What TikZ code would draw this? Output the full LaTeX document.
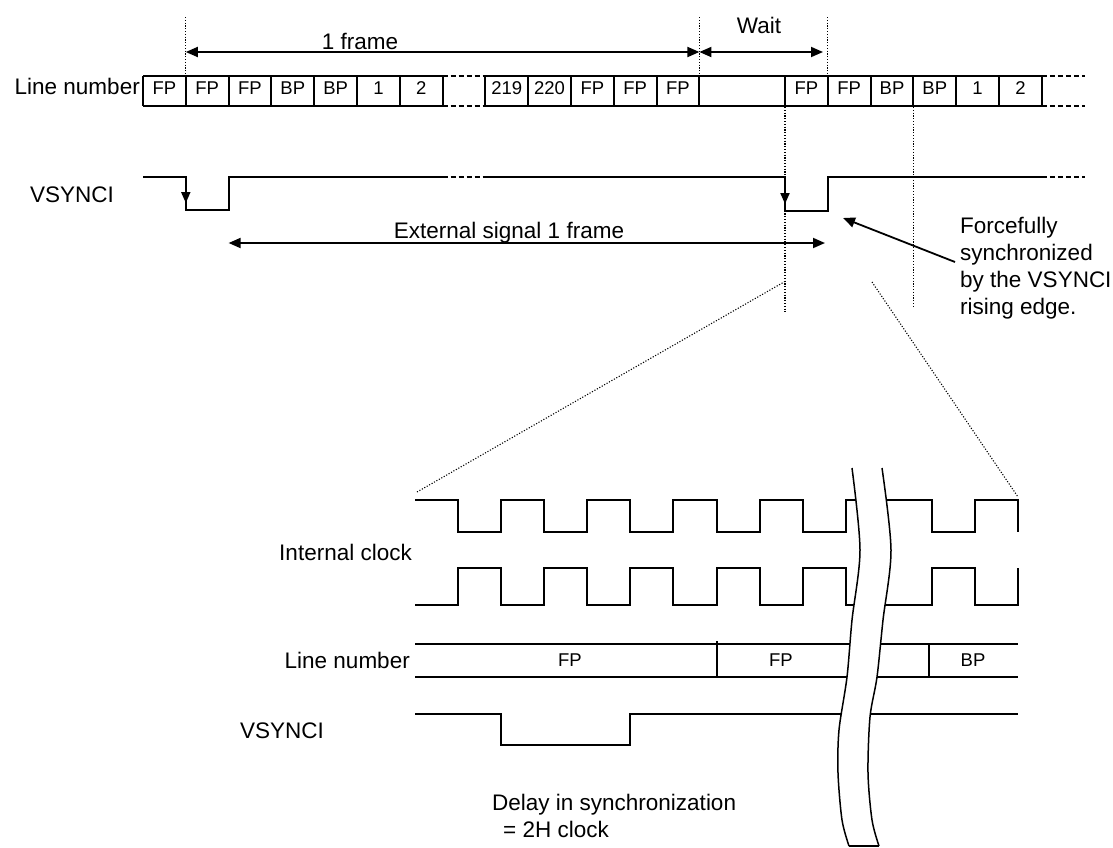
\documentclass[tikz,border=0pt]{standalone}
\usepackage{fontspec}
\setmainfont{Liberation Sans}
\usetikzlibrary{arrows.meta}
\begin{document}
\begin{tikzpicture}[x=1pt,y=-1pt,
  wave/.style={line width=2pt, line join=miter, line cap=butt},
  dashwave/.style={line width=2pt, dash pattern=on 5pt off 3pt},
  dotline/.style={line width=1.1pt, dash pattern=on 1.1pt off 1.7pt},
  dimarrow/.style={line width=1.8pt, {Triangle[length=12pt,width=10pt]}-{Triangle[length=12pt,width=10pt]}},
  tiparrow/.style={line width=1.8pt, -{Triangle[length=12pt,width=10pt]}},
  lbl/.style={font=\fontsize{22.5}{27}\selectfont, inner sep=0pt},
  boxlbl/.style={font=\fontsize{18.5}{22}\selectfont, inner sep=0pt, anchor=base},
  breakline/.style={line width=1.5pt},
]
\useasboundingbox (0,0) rectangle (1113,847);

% ---------- top row of line numbers ----------
\draw[wave] (143,76) -- (442.6,76) (143,106) -- (442.6,106);
\draw[dashwave] (442.6,76) -- (485.4,76) (442.6,106) -- (485.4,106);
\draw[wave] (485.4,76) -- (1041.8,76) (485.4,106) -- (1041.8,106);
\draw[dashwave] (1041.8,76) -- (1084.6,76) (1041.8,106) -- (1084.6,106);
\foreach \i in {0,...,13,15,16,...,21}
  \draw[wave] ({143+42.8*\i},76) -- ({143+42.8*\i},106);
\foreach \i/\t in {0/FP,1/FP,2/FP,3/BP,4/BP,5/1,6/2,8/219,9/220,10/FP,11/FP,12/FP,15/FP,16/FP,17/BP,18/BP,19/1,20/2}
  \node[boxlbl] (bl\i) at ({143+42.8*\i+21.4},94.5) {\t};

\node[lbl, anchor=base east] (ln1) at (140,94.5) {Line number};
\node[lbl, anchor=base] (f1) at (360,49) {1 frame};
\node[lbl, anchor=base] (wt) at (759,33) {Wait};

% dotted verticals
\draw[dotline] (185.8,17) -- (185.8,76);
\draw[dotline] (699.4,17) -- (699.4,76);
\draw[dotline] (827.8,17) -- (827.8,76);
\draw[dotline] (785,107) -- (785,312);
\draw[dotline] (913.4,107) -- (913.4,307);

% dimension arrows
\coordinate (a1) at (185.8,52);
\coordinate (a2) at (699.4,52);
\coordinate (a3) at (823,52);
\draw[dimarrow] (a1) -- (a2);
\draw[dimarrow] (a2) -- (a3);

% ---------- top VSYNCI ----------
\node[lbl, anchor=base west] (vs1) at (30,202) {VSYNCI};
\draw[wave] (143,177) -- (185.8,177) -- (185.8,210) -- (228.6,210) -- (228.6,177) -- (442.6,177);
\draw[dashwave] (442.6,177) -- (485.4,177);
\draw[wave] (485.4,177) -- (785,177) -- (785,211) -- (827.8,211) -- (827.8,177) -- (1041.8,177);
\draw[dashwave] (1041.8,177) -- (1084.6,177);
\draw[line width=2pt, -{Triangle[length=11pt,width=9pt]}] (185.8,180) -- (185.8,203);
\draw[line width=2pt, -{Triangle[length=11pt,width=9pt]}] (785,180) -- (785,204);

\coordinate (e1) at (228.6,243);
\coordinate (e2) at (825,243);
\draw[dimarrow] (e1) -- (e2);
\node[lbl, anchor=base] (ext) at (509,238) {External signal 1 frame};

% annotation
\node[lbl, anchor=base west] (fc1) at (960,233) {Forcefully};
\node[lbl, anchor=base west] (fc2) at (960,260) {synchronized};
\node[lbl, anchor=base west] (fc3) at (960,287) {by the VSYNCI};
\node[lbl, anchor=base west] (fc4) at (960,314) {rising edge.};
\coordinate (p1) at (955,262);
\coordinate (p2) at (843,218);
\draw[tiparrow] (p1) -- (p2);

% zoom guide lines
\draw[dotline] (417,492) -- (784,282);
\draw[dotline] (872,282) -- (1018,497);

% ---------- bottom detail ----------
\node[lbl, anchor=base east] (ic) at (412,560) {Internal clock};
\node[lbl, anchor=base east] (ln2) at (410,668) {Line number};
\node[lbl, anchor=base west] (vs2) at (240,738) {VSYNCI};
\node[lbl, anchor=base west] (dl1) at (492,810) {Delay in synchronization};
\node[lbl, anchor=base west] (dl2) at (503,837) {= 2H clock};

% clock 1
\draw[wave] (415,500) -- (458.1,500) -- (458.1,532) -- (501.1,532) -- (501.1,500) -- (544.2,500) -- (544.2,532) -- (587.3,532) -- (587.3,500) -- (630.4,500) -- (630.4,532) -- (673.4,532) -- (673.4,500) -- (716.5,500) -- (716.5,532) -- (759.6,532) -- (759.6,500) -- (802.6,500) -- (802.6,532) -- (845.7,532) -- (845.7,500) -- (931.9,500) -- (931.9,532) -- (974.9,532) -- (974.9,500) -- (1018,500) -- (1018,532);
% clock 2
\draw[wave] (415,605) -- (458.1,605) -- (458.1,568) -- (501.1,568) -- (501.1,605) -- (544.2,605) -- (544.2,568) -- (587.3,568) -- (587.3,605) -- (630.4,605) -- (630.4,568) -- (673.4,568) -- (673.4,605) -- (716.5,605) -- (716.5,568) -- (759.6,568) -- (759.6,605) -- (802.6,605) -- (802.6,568) -- (845.7,568) -- (845.7,605) -- (931.9,605) -- (931.9,568) -- (974.9,568) -- (974.9,605) -- (1018,605) -- (1018,568);

% line number row
\draw[wave] (415,644) -- (1018,644) (415,677) -- (1018,677);
\draw[wave] (716.5,641) -- (716.5,677);
\draw[wave] (929,644) -- (929,677);
\node[boxlbl] (bf1) at (570,666) {FP};
\node[boxlbl] (bf2) at (781,666) {FP};
\node[boxlbl] (bb1) at (973,666) {BP};

% VSYNCI
\draw[wave] (415,714) -- (501.1,714) -- (501.1,745) -- (630.4,745) -- (630.4,714) -- (1018,714);

% break band
\fill[white] plot[smooth] coordinates {(852,468) (860,550) (852,620) (847,677) (839,730) (838,773) (842,820) (849,846)}
  -- plot[smooth] coordinates {(879,846) (872,820) (868,773) (870,717) (877,677) (883,620) (891,550) (882,468)} -- cycle;
\draw[breakline] plot[smooth] coordinates {(852,468) (860,550) (852,620) (847,677) (839,730) (838,773) (842,820) (849,846)};
\draw[breakline] plot[smooth] coordinates {(882,468) (891,550) (883,620) (877,677) (870,717) (868,773) (872,820) (879,846)};
\draw[breakline] (849,846) -- (879,846);
\end{tikzpicture}
\end{document}
